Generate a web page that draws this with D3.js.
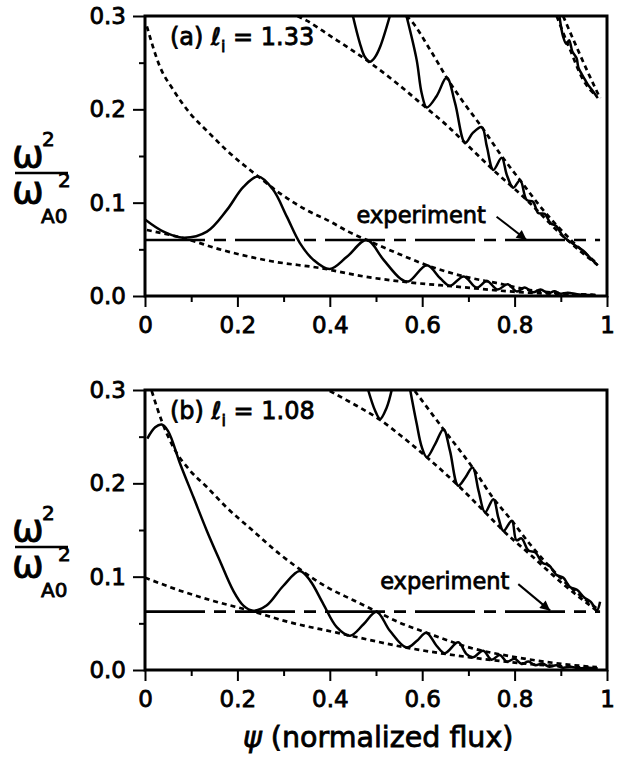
<!DOCTYPE html>
<html lang="en">
<head>
<meta charset="UTF-8">
<title>Alfvén continuum vs normalized flux</title>
<script src="https://d3js.org/d3.v7.min.js"></script>
<style>
  body { margin: 0; background: #fff; }
  svg { display: block; font-family: "DejaVu Sans", sans-serif; }
  svg text { fill: #000; stroke: #000; stroke-width: 0.8px; }
  .tick line { stroke: #000; stroke-width: 2px; }
</style>
</head>
<body>
<svg width="621" height="759"></svg>
<script>
// axis ticks
const xMajor = [0, 0.2, 0.4, 0.6, 0.8, 1];
const xMinor = [0.1, 0.3, 0.5, 0.7, 0.9];
const yMajor = [0, 0.1, 0.2, 0.3];
const yMinor = [0.05, 0.15, 0.25];

// ---- panel (a), l_i = 1.33 ----  points are [psi, omega^2 / omega_A0^2]
const aGap1Upper = [[0.004,0.289],[0.032,0.246],[0.061,0.221],[0.097,0.196],[0.134,0.177],[0.177,0.156],[0.245,0.128],[0.292,0.110],[0.35,0.092],[0.40,0.080],[0.44,0.069],[0.48,0.060],[0.545,0.046],[0.61,0.033],[0.69,0.021],[0.76,0.014],[0.833,0.0064],[0.9,0.003],[0.977,0.001]];
const aGap1Lower = [[0.004,0.0707],[0.083,0.062],[0.169,0.049],[0.277,0.037],[0.379,0.030],[0.473,0.021],[0.559,0.0153],[0.675,0.010],[0.797,0.0046],[0.977,0.001]];
const aLowCont = [[0,0.082],[0.04,0.069],[0.083,0.0625],[0.134,0.069],[0.177,0.092],[0.213,0.117],[0.245,0.128],[0.277,0.114],[0.307,0.085],[0.335,0.057],[0.364,0.039],[0.40,0.029],[0.437,0.042],[0.48,0.060],[0.516,0.039],[0.552,0.019],[0.57,0.0155],[0.61,0.033],[0.639,0.019],[0.66,0.011],[0.69,0.021],[0.718,0.009],[0.74,0.016],[0.763,0.007],[0.785,0.0125],[0.805,0.0048],[0.822,0.009],[0.84,0.004],[0.856,0.007],[0.872,0.003],[0.886,0.005],[0.9,0.0025],[0.915,0.0035],[0.94,0.0015],[0.97,0.001]];
const aGap2Lower = [[0.33,0.30],[0.35,0.295],[0.40,0.279],[0.487,0.250],[0.545,0.228],[0.61,0.201],[0.653,0.183],[0.693,0.164],[0.754,0.135],[0.826,0.103],[0.905,0.064],[0.98,0.033]];
const aGap2Upper = [[0.565,0.30],[0.57,0.298],[0.617,0.264],[0.653,0.234],[0.69,0.207],[0.729,0.181],[0.772,0.150],[0.812,0.124],[0.862,0.092],[0.92,0.061],[0.98,0.034]];
const aUpContU = [[0.45,0.30],[0.465,0.271],[0.476,0.256],[0.487,0.251],[0.498,0.256],[0.509,0.267],[0.53,0.30]];
const aUpCont = [[0.566,0.30],[0.588,0.253],[0.599,0.217],[0.61,0.202],[0.631,0.214],[0.653,0.234],[0.671,0.207],[0.693,0.164],[0.71,0.175],[0.729,0.181],[0.74,0.160],[0.754,0.135],[0.772,0.148],[0.783,0.130],[0.797,0.116],[0.812,0.124],[0.826,0.103],[0.84,0.101],[0.851,0.089],[0.865,0.088],[0.878,0.078],[0.89,0.075],[0.905,0.064],[0.92,0.058],[0.935,0.053],[0.95,0.048],[0.965,0.040],[0.98,0.033]];
const aGap3Lower = [[0.891,0.30],[0.92,0.264],[0.949,0.231],[0.978,0.214]];
const aGap3Upper = [[0.905,0.30],[0.934,0.267],[0.963,0.235],[0.985,0.212]];
const aCont3 = [[0.897,0.30],[0.905,0.278],[0.912,0.27],[0.918,0.274],[0.925,0.262],[0.934,0.255],[0.938,0.245],[0.945,0.238],[0.952,0.232],[0.958,0.227],[0.97,0.219],[0.98,0.212]];
const aExperiment = 0.06;

// ---- panel (b), l_i = 1.08 ----
const bGap1Upper = [[0.0145,0.299],[0.036,0.267],[0.061,0.239],[0.097,0.214],[0.134,0.196],[0.177,0.174],[0.234,0.149],[0.292,0.124],[0.335,0.108],[0.393,0.089],[0.45,0.075],[0.502,0.0625],[0.55,0.051],[0.609,0.040],[0.703,0.024],[0.804,0.0136],[0.905,0.0064],[0.978,0.003]];
const bGap1Lower = [[0,0.099],[0.076,0.085],[0.148,0.074],[0.227,0.0636],[0.314,0.051],[0.415,0.040],[0.444,0.0368],[0.566,0.024],[0.703,0.0136],[0.833,0.0064],[0.978,0.002]];
const bLowCont = [[0.005,0.248],[0.022,0.260],[0.036,0.263],[0.05,0.256],[0.076,0.221],[0.105,0.185],[0.134,0.149],[0.162,0.117],[0.191,0.085],[0.213,0.069],[0.234,0.0636],[0.263,0.069],[0.299,0.090],[0.335,0.106],[0.357,0.096],[0.386,0.0707],[0.415,0.046],[0.444,0.0368],[0.473,0.049],[0.501,0.0625],[0.53,0.042],[0.566,0.024],[0.588,0.031],[0.609,0.040],[0.631,0.026],[0.649,0.018],[0.678,0.0297],[0.696,0.017],[0.71,0.0136],[0.732,0.0207],[0.75,0.011],[0.768,0.016],[0.783,0.009],[0.8,0.012],[0.815,0.0065],[0.83,0.009],[0.845,0.005],[0.86,0.007],[0.875,0.0035],[0.89,0.005],[0.905,0.0025],[0.92,0.0035],[0.94,0.002],[0.96,0.0025],[0.98,0.0015]];
const bGap2Lower = [[0.40,0.299],[0.444,0.287],[0.509,0.268],[0.559,0.249],[0.61,0.228],[0.678,0.1975],[0.736,0.169],[0.776,0.149],[0.833,0.124],[0.905,0.092],[0.978,0.0636]];
const bGap2Upper = [[0.584,0.299],[0.646,0.258],[0.709,0.217],[0.754,0.184],[0.794,0.16],[0.833,0.135],[0.905,0.096],[0.978,0.066]];
const bUpContU = [[0.483,0.30],[0.498,0.278],[0.509,0.269],[0.523,0.281],[0.534,0.30]];
const bUpCont = [[0.574,0.30],[0.588,0.264],[0.599,0.239],[0.61,0.228],[0.628,0.242],[0.646,0.258],[0.66,0.235],[0.678,0.1975],[0.693,0.206],[0.709,0.217],[0.722,0.192],[0.736,0.169],[0.754,0.183],[0.765,0.163],[0.776,0.149],[0.794,0.16],[0.804,0.139],[0.815,0.141],[0.83,0.128],[0.845,0.126],[0.86,0.115],[0.875,0.112],[0.89,0.102],[0.905,0.099],[0.92,0.089],[0.935,0.086],[0.95,0.078],[0.965,0.073],[0.978,0.0636],[0.985,0.073]];
const bExperiment = 0.0625;

const panels = [
  { tag: "(a)", li: "1.33", top: 16, exp: aExperiment,
    label: { psi: 0.458, w: 0.078 }, arrow: [[0.761, 0.085], [0.826, 0.06]],
    dotted: [aGap1Upper, aGap1Lower, aGap2Lower, aGap2Upper, aGap3Lower, aGap3Upper],
    solid: [aLowCont, aUpContU, aUpCont, aCont3] },
  { tag: "(b)", li: "1.08", top: 390, exp: bExperiment,
    label: { psi: 0.509, w: 0.087 }, arrow: [[0.808, 0.092], [0.877, 0.0636]],
    dotted: [bGap1Upper, bGap1Lower, bGap2Lower, bGap2Upper],
    solid: [bLowCont, bUpContU, bUpCont] }
];

const left = 145, right = 607, plotH = 280;
const svg = d3.select("svg");

svg.append("defs").append("marker")
  .attr("id", "head")
  .attr("viewBox", "0 0 10 10")
  .attr("refX", 10).attr("refY", 5)
  .attr("markerWidth", 7).attr("markerHeight", 5)
  .attr("markerUnits", "strokeWidth")
  .attr("orient", "auto")
  .append("path").attr("d", "M0,0L10,5L0,10Z").attr("fill", "#000");

panels.forEach((p, i) => {
  const x = d3.scaleLinear().domain([0, 1]).range([left, right]);
  const y = d3.scaleLinear().domain([0, 0.3]).range([p.top + plotH, p.top]);
  const g = svg.append("g");

  g.append("clipPath").attr("id", "clip" + i)
    .append("rect").attr("x", left).attr("y", p.top)
    .attr("width", right - left).attr("height", plotH);

  const line = d3.line().x(d => x(d[0])).y(d => y(d[1]));
  const plot = g.append("g").attr("clip-path", `url(#clip${i})`);

  // continuum gap boundaries
  plot.selectAll(".gap").data(p.dotted).join("path")
    .attr("class", "gap")
    .attr("d", line.curve(d3.curveMonotoneX))
    .attr("fill", "none").attr("stroke", "#000")
    .attr("stroke-width", 2.7).attr("stroke-dasharray", "5,4");

  // continuum branches
  plot.selectAll(".cont").data(p.solid).join("path")
    .attr("class", "cont")
    .attr("d", line.curve(d3.curveCatmullRom.alpha(0.5)))
    .attr("fill", "none").attr("stroke", "#000").attr("stroke-width", 2.5);

  // measured frequency
  plot.append("line")
    .attr("x1", x(0)).attr("x2", x(0.985))
    .attr("y1", y(p.exp)).attr("y2", y(p.exp))
    .attr("stroke", "#000").attr("stroke-width", 2.6)
    .attr("stroke-dasharray", "60,9,12,9");

  // frame
  g.append("rect").attr("x", left).attr("y", p.top)
    .attr("width", right - left).attr("height", plotH)
    .attr("fill", "none").attr("stroke", "#000").attr("stroke-width", 3);

  // axes
  g.append("g").attr("transform", `translate(${left},0)`)
    .call(d3.axisLeft(y).tickValues(yMajor).tickSize(12).tickPadding(7).tickFormat(d3.format(".1f")));
  g.append("g").attr("transform", `translate(${left},0)`)
    .call(d3.axisLeft(y).tickValues(yMinor).tickSize(6).tickFormat(""));
  g.append("g").attr("transform", `translate(0,${p.top + plotH})`)
    .call(d3.axisBottom(x).tickValues(xMajor).tickSize(11).tickPadding(10)
      .tickFormat(d => (d === 0 || d === 1) ? String(d) : d3.format(".1f")(d)));
  g.append("g").attr("transform", `translate(0,${p.top + plotH})`)
    .call(d3.axisBottom(x).tickValues(xMinor).tickSize(6).tickFormat(""));
  g.selectAll(".domain").remove();
  g.selectAll(".tick text")
    .attr("font-size", 23).attr("font-family", "DejaVu Sans, sans-serif");

  // panel title
  const t = g.append("text").attr("x", left + 25).attr("y", p.top + 29)
    .attr("font-size", 24);
  t.append("tspan").text(p.tag + " ");
  t.append("tspan").attr("font-style", "italic").text("ℓ");
  t.append("tspan").attr("font-size", 16).attr("dy", 7).text("i");
  t.append("tspan").attr("dy", -7).text(" = " + p.li);

  // experiment annotation
  g.append("text").attr("x", x(p.label.psi)).attr("y", y(p.label.w))
    .attr("font-size", 22.5).text("experiment");
  g.append("line")
    .attr("x1", x(p.arrow[0][0])).attr("y1", y(p.arrow[0][1]))
    .attr("x2", x(p.arrow[1][0])).attr("y2", y(p.arrow[1][1]))
    .attr("stroke", "#000").attr("stroke-width", 2)
    .attr("marker-end", "url(#head)");

  // y label: omega^2 / omega_A0^2
  const yl = g.append("g").attr("transform", `translate(0,${p.top - 16})`);
  const num = yl.append("text");
  num.append("tspan").attr("x", 12).attr("y", 167).attr("font-size", 38).text("ω");
  num.append("tspan").attr("x", 42).attr("y", 146).attr("font-size", 20).text("2");
  yl.append("line").attr("x1", 15).attr("x2", 68).attr("y1", 173).attr("y2", 173)
    .attr("stroke", "#000").attr("stroke-width", 2.5);
  const den = yl.append("text");
  den.append("tspan").attr("x", 12).attr("y", 203).attr("font-size", 38).text("ω");
  den.append("tspan").attr("x", 58).attr("y", 187).attr("font-size", 20).text("2");
  den.append("tspan").attr("x", 41).attr("y", 223).attr("font-size", 20).text("A0");
});

// x title
const xt = svg.append("text").attr("x", 243).attr("y", 747).attr("font-size", 28.5);
xt.append("tspan").attr("font-style", "italic").text("ψ");
xt.append("tspan").text(" (normalized flux)");
</script>
</body>
</html>
